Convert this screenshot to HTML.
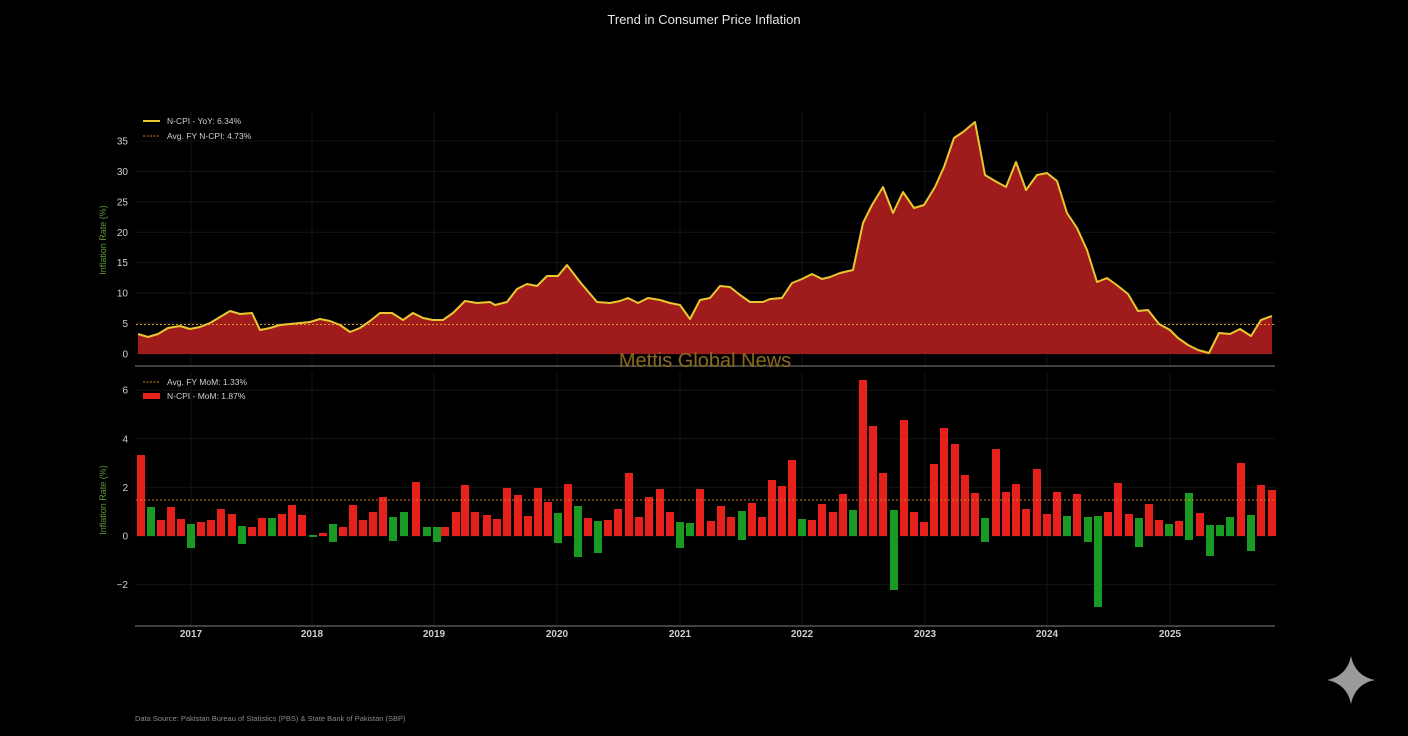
<!DOCTYPE html>
<html><head><meta charset="utf-8"><style>
html,body{margin:0;padding:0;background:#000;width:1408px;height:736px;overflow:hidden}
svg{display:block}
text{font-family:"Liberation Sans",sans-serif}
</style></head><body>
<svg id="s" width="1408" height="736" viewBox="0 0 1408 736" xmlns="http://www.w3.org/2000/svg">
<rect width="1408" height="736" fill="#000"/>
<text x="704" y="24" text-anchor="middle" fill="#e6e6e6" font-size="13">Trend in Consumer Price Inflation</text>
<g id="grid" stroke="#151515" stroke-width="1"></g>
<g id="topG"></g>
<line x1="135" y1="366" x2="1275" y2="366" stroke="#555" stroke-width="1.5"/>
<line x1="135" y1="626" x2="1275" y2="626" stroke="#555" stroke-width="1.5"/>
<g id="bars"></g>
<line x1="136" y1="500" x2="1275" y2="500" stroke="#d07a20" stroke-width="1" stroke-dasharray="2,2"/>
<text x="705" y="367" text-anchor="middle" fill="#8a6a1e" font-size="20">Mettis Global News</text>
<g id="labels" fill="#cfcfcf" font-size="10"></g>
<text transform="translate(106,240) rotate(-90)" text-anchor="middle" fill="#5f9a3a" font-size="9">Inflation Rate (%)</text>
<text transform="translate(106,500) rotate(-90)" text-anchor="middle" fill="#5f9a3a" font-size="9">Inflation Rate (%)</text>
<line x1="143" y1="121" x2="160" y2="121" stroke="#e8c830" stroke-width="2"/>
<text x="167" y="124" fill="#cfcfcf" font-size="8.5">N-CPI - YoY: 6.34%</text>
<line x1="143" y1="136" x2="160" y2="136" stroke="#d07a20" stroke-width="1" stroke-dasharray="2,1.5"/>
<text x="167" y="139" fill="#cfcfcf" font-size="8.5">Avg. FY N-CPI: 4.73%</text>
<line x1="143" y1="382" x2="160" y2="382" stroke="#d07a20" stroke-width="1" stroke-dasharray="2,1.5"/>
<text x="167" y="385" fill="#cfcfcf" font-size="8.5">Avg. FY MoM: 1.33%</text>
<rect x="143" y="393" width="17" height="6" fill="#e8201c"/>
<text x="167" y="399" fill="#cfcfcf" font-size="8.5">N-CPI - MoM: 1.87%</text>
<text x="135" y="721" fill="#8a8a8a" font-size="7.5">Data Source: Pakistan Bureau of Statistics (PBS) &amp; State Bank of Pakistan (SBP)</text>
<path d="M1351,656 Q1355,676 1375,680 Q1355,684 1351,704 Q1347,684 1327,680 Q1347,676 1351,656Z" fill="#9a9a9a"/>
</svg>
<script>
(function(){
var NS="http://www.w3.org/2000/svg";
function el(p,t,a){var e=document.createElementNS(NS,t);for(var k in a)e.setAttribute(k,a[k]);p.appendChild(e);return e;}
var grid=document.getElementById('grid'),lab=document.getElementById('labels');
var years=[[191,'2017'],[312,'2018'],[434,'2019'],[557,'2020'],[680,'2021'],[802,'2022'],[925,'2023'],[1047,'2024'],[1170,'2025']];
years.forEach(function(y){el(grid,'line',{x1:y[0],y1:112,x2:y[0],y2:366});el(grid,'line',{x1:y[0],y1:372,x2:y[0],y2:626});
 var t=el(lab,'text',{x:y[0],y:637,'text-anchor':'middle','font-weight':'bold'});t.textContent=y[1];});
for(var v=0;v<=35;v+=5){var y=354-v*6.086;el(grid,'line',{x1:135,y1:y,x2:1275,y2:y});
 var t=el(lab,'text',{x:128,y:y+3.5,'text-anchor':'end'});t.textContent=v;}
[-2,0,2,4,6].forEach(function(v){var y=536-v*24.3;el(grid,'line',{x1:135,y1:y,x2:1275,y2:y});
 var t=el(lab,'text',{x:128,y:y+3.5,'text-anchor':'end'});t.textContent=(v<0?'\u22122':v);});
var pts="138,334 148,337 158,334 168,328 180,326 190,329 200,327 210,323 220,317 230,311 240,314 252,313 260,330 270,328 280,325 290,324 300,323 310,322 320,319 330,321 340,325 350,332 360,328 370,321 380,313 392,313 403,320 413,313 423,318 433,320 443,320 453,313 465,301 477,303 490,302 495,305 507,302 517,289 527,284 537,286 547,276 558,276 567,265 580,282 597,302 610,303 620,301 628,298 638,303 648,298 660,300 670,303 680,305 690,319 700,300 710,298 720,286 730,287 740,295 750,302 763,302 770,299 782,298 792,283 802,279 812,274 822,279 830,277 840,273 853,270 863,223 872,205 883,187 893,213 903,192 914,208 924,205 935,187 944,167 954,138 963,132 975,122 985,175 995,181 1006,187 1016,162 1026,190 1037,175 1047,173 1057,181 1067,213 1077,228 1087,250 1097,282 1107,278 1118,286 1128,294 1138,311 1148,310 1159,324 1170,330 1178,338 1188,345 1198,350 1209,353 1219,333 1230,334 1240,329 1251,336 1261,320 1272,316";
var tg=document.getElementById('topG');
el(tg,'polygon',{points:pts+" 1272,354 138,354",fill:"#a01c1c"});
el(tg,'line',{x1:136,y1:324.5,x2:1275,y2:324.5,stroke:"#e09a20","stroke-width":1,"stroke-dasharray":"2,2"});
el(tg,'polyline',{points:pts,fill:"none",stroke:"#e8c830","stroke-width":2,"stroke-linejoin":"round"});
var B="141:455:536:r 151:507:536:g 161:520:536:r 171:507:536:r 181:519:536:r 191:524:548:g 201:522:536:r 211:520:536:r 221:509:536:r 232:514:536:r 242:526:544:g 252:527:536:r 262:518:536:r 272:518:536:g 282:514:536:r 292:505:536:r 302:515:536:r 313:535:537:g 323:533:536:r 333:524:542:g 343:527:536:r 353:505:536:r 363:520:536:r 373:512:536:r 383:497:536:r 393:517:541:g 404:512:536:g 416:482:536:r 427:527:536:g 437:527:542:g 445:527:536:r 456:512:536:r 465:485:536:r 475:512:536:r 487:515:536:r 497:519:536:r 507:488:536:r 518:495:536:r 528:516:536:r 538:488:536:r 548:502:536:r 558:513:543:g 568:484:536:r 578:506:557:g 588:518:536:r 598:521:553:g 608:520:536:r 618:509:536:r 629:473:536:r 639:517:536:r 649:497:536:r 660:489:536:r 670:512:536:r 680:522:548:g 690:523:536:g 700:489:536:r 711:521:536:r 721:506:536:r 731:517:536:r 742:511:540:g 752:503:536:r 762:517:536:r 772:480:536:r 782:486:536:r 792:460:536:r 802:519:536:g 812:520:536:r 822:504:536:r 833:512:536:r 843:494:536:r 853:510:536:g 863:380:536:r 873:426:536:r 883:473:536:r 894:510:590:g 904:420:536:r 914:512:536:r 924:522:536:r 934:464:536:r 944:428:536:r 955:444:536:r 965:475:536:r 975:493:536:r 985:518:542:g 996:449:536:r 1006:492:536:r 1016:484:536:r 1026:509:536:r 1037:469:536:r 1047:514:536:r 1057:492:536:r 1067:516:536:g 1077:494:536:r 1088:517:542:g 1098:516:607:g 1108:512:536:r 1118:483:536:r 1129:514:536:r 1139:518:547:g 1149:504:536:r 1159:520:536:r 1169:524:536:g 1179:521:536:r 1189:493:540:g 1200:513:536:r 1210:525:556:g 1220:525:536:g 1230:517:536:g 1241:463:536:r 1251:515:551:g 1261:485:536:r 1272:490:536:r";
var bars=document.getElementById('bars');
B.split(' ').forEach(function(s){var p=s.split(':');var x=+p[0],t=+p[1],b=+p[2];
 el(bars,'rect',{x:x-4,y:t,width:8,height:Math.max(1,b-t),fill:p[3]=='r'?'#e8201c':'#1a9a22'});});
})();
</script>
</body></html>
